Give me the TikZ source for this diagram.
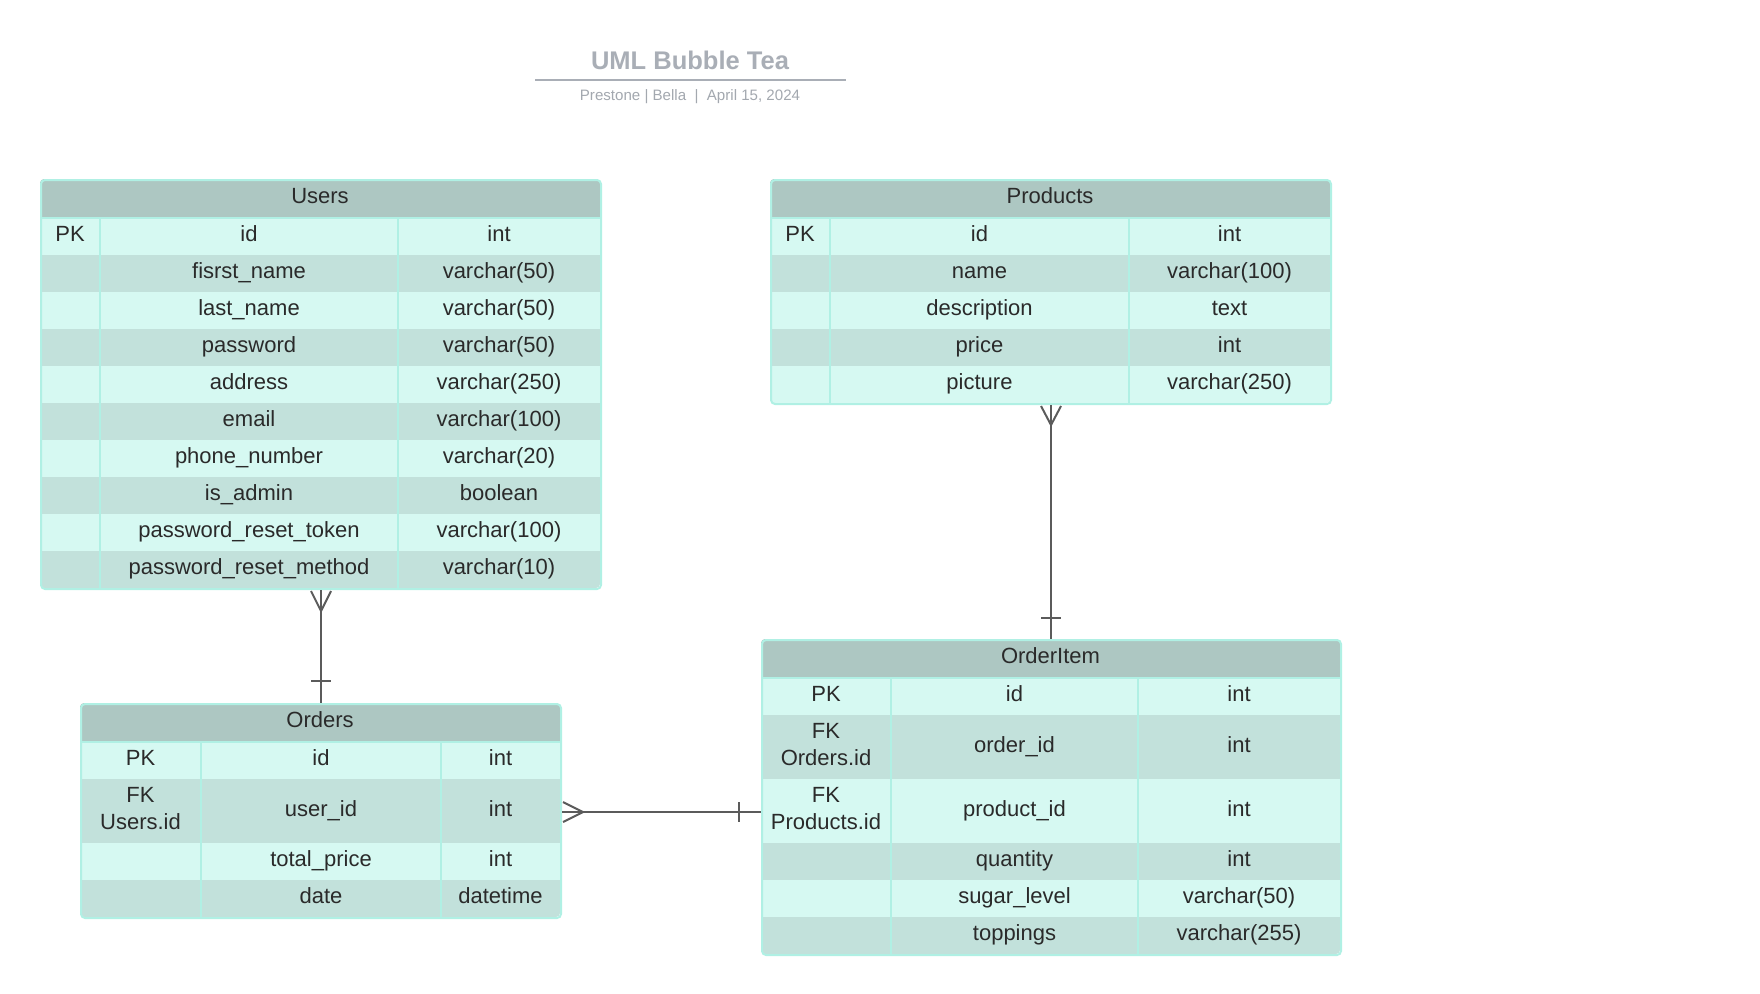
\documentclass[tikz,border=0pt]{standalone}
\usepackage{fontspec}
\setmainfont{Liberation Sans}[BoldFont={Liberation Sans Bold}]
\usetikzlibrary{calc}
\definecolor{hdr}{HTML}{ADC7C2}
\definecolor{rowL}{HTML}{D6F9F2}
\definecolor{rowD}{HTML}{C2E1DB}
\definecolor{bord}{HTML}{B0F0E4}
\definecolor{txt}{HTML}{2A2A2A}
\definecolor{ttl}{HTML}{A9AEB6}
\definecolor{sub}{HTML}{A3A8AF}
\definecolor{conncol}{HTML}{5B5B5B}
\newcounter{cellno}
\newcommand\tabcols[4]{\def\cA{#1}\def\cB{#2}\def\cC{#3}\def\cD{#4}}
% ytop, height, colour, text1, text2, text3
\newcommand\erRow[6]{%
  \fill[#3] (\cA,#1) rectangle (\cD,#1+#2);
  \stepcounter{cellno}\node[cell] (cell\arabic{cellno}) at ({(\cA+\cB)/2},{#1+#2/2}) {#4};
  \stepcounter{cellno}\node[cell] (cell\arabic{cellno}) at ({(\cB+\cC)/2},{#1+#2/2}) {#5};
  \stepcounter{cellno}\node[cell] (cell\arabic{cellno}) at ({(\cC+\cD)/2},{#1+#2/2}) {#6};
}
% FK row: first cell has two lines
\newcommand\erFKRow[6]{%
  \fill[#3] (\cA,#1) rectangle (\cD,#1+#2);
  \stepcounter{cellno}\node[cellml] (cell\arabic{cellno}) at ({(\cA+\cB)/2},{#1+#2/2}) {#4};
  \stepcounter{cellno}\node[cell] (cell\arabic{cellno}) at ({(\cB+\cC)/2},{#1+#2/2}) {#5};
  \stepcounter{cellno}\node[cell] (cell\arabic{cellno}) at ({(\cC+\cD)/2},{#1+#2/2}) {#6};
}
% top, bottom, title
\newcommand\erHead[3]{%
  \fill[hdr] (\cA,#1) rectangle (\cD,#1+39);
  \stepcounter{cellno}\node[cell] (cell\arabic{cellno}) at ({(\cA+\cD)/2},{#1+19.5}) {#3};
}
\newcommand\erLines[2]{%
  \draw[bord, line width=1.6pt] (\cA,#1+39) -- (\cD,#1+39);
  \draw[bord, line width=1.6pt] (\cB,#1+39) -- (\cB,#2);
  \draw[bord, line width=1.6pt] (\cC,#1+39) -- (\cC,#2);
}
\tikzset{
  cellml/.style={text=txt, font=\fontsize{22}{27}\selectfont, align=center, inner sep=0pt, yshift=2.5pt},
  cell/.style={text=txt, font=\fontsize{22}{27}\selectfont, inner sep=0pt, text height=15.8pt, text depth=0pt, yshift=2.5pt},
  frame/.style={draw=bord, line width=2pt, rounded corners=4pt, inner sep=0pt, anchor=north west},
  conn/.style={draw=conncol, line width=2pt},
}
\begin{document}
\begin{tikzpicture}[x=1pt,y=-1pt]
\useasboundingbox[fill=white] (0,0) rectangle (1760,993);

% Title
\node[text=ttl, font=\fontsize{25.5}{30}\selectfont\bfseries, inner sep=0pt, text height=18pt, text depth=0pt] (title) at (690,60) {UML Bubble Tea};
\draw[ttl, line width=1.6pt] (535,80) -- (846,80);
\node[text=sub, font=\fontsize{15.1}{18}\selectfont, inner sep=0pt, text height=10.8pt, text depth=0pt] (subtitle) at (690,95.5) {Prestone | Bella \ | \ April 15, 2024};

% ---------- Users ----------
\tabcols{40}{100}{398}{600}
\begin{scope}
\clip[rounded corners=4pt] (40,179) rectangle (600,588);
\erHead{179}{588}{Users}
\erRow{218}{37}{rowL}{PK}{id}{int}
\erRow{255}{37}{rowD}{}{fisrst\_name}{varchar(50)}
\erRow{292}{37}{rowL}{}{last\_name}{varchar(50)}
\erRow{329}{37}{rowD}{}{password}{varchar(50)}
\erRow{366}{37}{rowL}{}{address}{varchar(250)}
\erRow{403}{37}{rowD}{}{email}{varchar(100)}
\erRow{440}{37}{rowL}{}{phone\_number}{varchar(20)}
\erRow{477}{37}{rowD}{}{is\_admin}{boolean}
\erRow{514}{37}{rowL}{}{password\_reset\_token}{varchar(100)}
\erRow{551}{37}{rowD}{}{password\_reset\_method}{varchar(10)}
\erLines{179}{588}
\end{scope}
\node[frame, minimum width=560pt, minimum height=409pt] (users) at (40,179) {};

% ---------- Products ----------
\tabcols{770}{830}{1129}{1330}
\begin{scope}
\clip[rounded corners=4pt] (770,179) rectangle (1330,403);
\erHead{179}{403}{Products}
\erRow{218}{37}{rowL}{PK}{id}{int}
\erRow{255}{37}{rowD}{}{name}{varchar(100)}
\erRow{292}{37}{rowL}{}{description}{text}
\erRow{329}{37}{rowD}{}{price}{int}
\erRow{366}{37}{rowL}{}{picture}{varchar(250)}
\erLines{179}{403}
\end{scope}
\node[frame, minimum width=560pt, minimum height=224pt] (products) at (770,179) {};

% ---------- Orders ----------
\tabcols{80}{201}{441}{560}
\begin{scope}
\clip[rounded corners=4pt] (80,703) rectangle (560,917);
\erHead{703}{917}{Orders}
\erRow{742}{37}{rowL}{PK}{id}{int}
\erFKRow{779}{64}{rowD}{FK\\Users.id}{user\_id}{int}
\erRow{843}{37}{rowL}{}{total\_price}{int}
\erRow{880}{37}{rowD}{}{date}{datetime}
\erLines{703}{917}
\end{scope}
\node[frame, minimum width=480pt, minimum height=214pt] (orders) at (80,703) {};

% ---------- OrderItem ----------
\tabcols{761}{891}{1138}{1340}
\begin{scope}
\clip[rounded corners=4pt] (761,639) rectangle (1340,954);
\erHead{639}{954}{OrderItem}
\erRow{678}{37}{rowL}{PK}{id}{int}
\erFKRow{715}{64}{rowD}{FK\\Orders.id}{order\_id}{int}
\erFKRow{779}{64}{rowL}{FK\\Products.id}{product\_id}{int}
\erRow{843}{37}{rowD}{}{quantity}{int}
\erRow{880}{37}{rowL}{}{sugar\_level}{varchar(50)}
\erRow{917}{37}{rowD}{}{toppings}{varchar(255)}
\erLines{639}{954}
\end{scope}
\node[frame, minimum width=579pt, minimum height=315pt] (orderitem) at (761,639) {};

% ---------- Connectors ----------
% Users (many) -- Orders (one)
\draw[conn] (users.south) -- (users.south |- orders.north);
\draw[conn] ($(users.south)+(-10,1)$) -- ($(users.south)+(0,21)$) -- ($(users.south)+(10,1)$);
\draw[conn] ($(users.south |- orders.north)+(-10,-22)$) -- ($(users.south |- orders.north)+(10,-22)$);

% Products (many) -- OrderItem (one)
\draw[conn] (products.south) -- (products.south |- orderitem.north);
\draw[conn] ($(products.south)+(-10,1)$) -- ($(products.south)+(0,20)$) -- ($(products.south)+(10,1)$);
\draw[conn] ($(products.south |- orderitem.north)+(-10,-21)$) -- ($(products.south |- orderitem.north)+(10,-21)$);

% Orders (many) -- OrderItem (one)
\coordinate (oiL) at ($(orders.east)+(0,1)$);
\draw[conn] (oiL) -- (oiL -| orderitem.west);
\draw[conn] ($(oiL)+(1,-10)$) -- ($(oiL)+(21,0)$) -- ($(oiL)+(1,10)$);
\draw[conn] ($(oiL -| orderitem.west)+(-22,-10)$) -- ($(oiL -| orderitem.west)+(-22,10)$);
\end{tikzpicture}
\end{document}
